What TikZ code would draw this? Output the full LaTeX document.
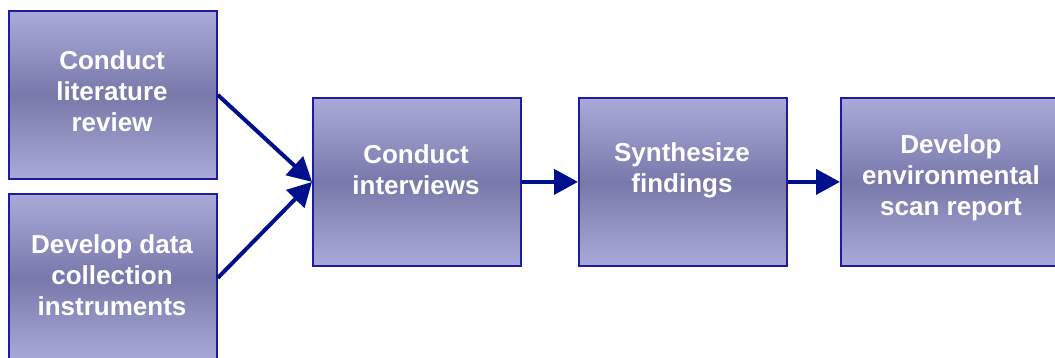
\documentclass[tikz,border=0pt]{standalone}
\usepackage{fontspec}
\setmainfont{Liberation Sans}
\usetikzlibrary{arrows.meta}
\definecolor{boxlight}{HTML}{AAAADA}
\definecolor{boxdark}{HTML}{7878AA}
\definecolor{boxedge}{HTML}{1C1C9C}
\definecolor{flow}{HTML}{00108C}
\begin{document}
\begin{tikzpicture}[x=1pt,y=-1pt,
  stepbox/.style={draw=boxedge, line width=1.8pt, rectangle,
    top color=boxlight, bottom color=boxlight, middle color=boxdark,
    minimum width=#1, minimum height=168pt, inner sep=0pt, anchor=north west},
  stepbox/.default=208pt,
  steptext/.style={text=white, align=center, inner sep=0pt,
    font=\fontsize{26}{31}\selectfont\bfseries},
  flowarrow/.style={draw=flow, line width=4pt,
    -{Triangle[length=24pt,width=25pt]}}]
\useasboundingbox (0,0) rectangle (1055,358);

% process boxes
\node[stepbox] (b1) at (8,10) {};
\node[stepbox] (b2) at (8,193) {};
\node[stepbox] (b3) at (312,97) {};
\node[stepbox] (b4) at (578,97) {};
\node[stepbox=222pt] (b5) at (840,97) {};

% box captions
\node[steptext] (t1) at (112,91) {Conduct\\literature\\review};
\node[steptext] (t2) at (112,275) {Develop data\\collection\\instruments};
\node[steptext] (t3) at (416,170) {Conduct\\interviews};
\node[steptext] (t4) at (682,170) {Synthesize\\findings};
\node[steptext] (t5) at (951,178) {Develop\\environmental\\scan report};

% flow between steps
\draw[flowarrow] (b1.east) -- (b3.west);
\draw[flowarrow] (b2.east) -- (b3.west);
\draw[flowarrow] (b3.east) -- (b4.west);
\draw[flowarrow] (b4.east) -- (b5.west);
\end{tikzpicture}
\end{document}
